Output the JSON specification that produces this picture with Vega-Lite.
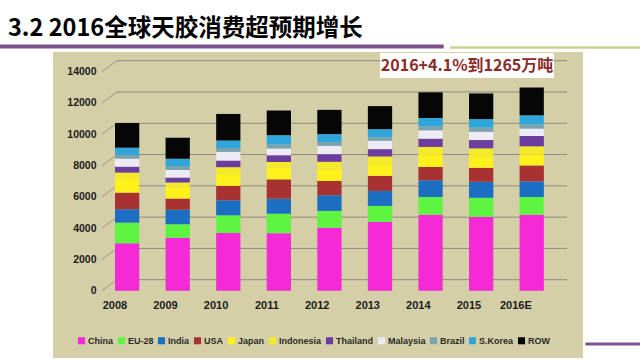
{
  "$schema": "https://vega.github.io/schema/vega-lite/v6.json",
  "width": 530,
  "height": 306,
  "autosize": {"type": "none"},
  "padding": {"left": 53, "top": 52, "right": 57, "bottom": 2},
  "background": "white",
  "view": {"fill": "#d4cfa6", "stroke": null},
  "title": {
    "text": "3.2 2016全球天胶消费超预期增长",
    "anchor": "start",
    "frame": "group",
    "dx": -45,
    "offset": 4,
    "font": "Noto Sans CJK SC",
    "fontSize": 23.5,
    "fontWeight": "bold",
    "color": "#000000"
  },
  "datasets": {
    "consumption": [
      {"year": "2008", "China": 3030, "EU-28": 1320, "India": 860, "USA": 1060, "Japan": 860, "Indonesia": 420, "Thailand": 380, "Malaysia": 510, "Brazil": 250, "S.Korea": 450, "ROW": 1580},
      {"year": "2009", "China": 3390, "EU-28": 860, "India": 920, "USA": 720, "Japan": 700, "Indonesia": 320, "Thailand": 320, "Malaysia": 490, "Brazil": 250, "S.Korea": 470, "ROW": 1330},
      {"year": "2010", "China": 3690, "EU-28": 1130, "India": 960, "USA": 920, "Japan": 750, "Indonesia": 445, "Thailand": 425, "Malaysia": 555, "Brazil": 250, "S.Korea": 475, "ROW": 1700},
      {"year": "2011", "China": 3680, "EU-28": 1240, "India": 960, "USA": 1240, "Japan": 740, "Indonesia": 370, "Thailand": 430, "Malaysia": 430, "Brazil": 260, "S.Korea": 590, "ROW": 1580},
      {"year": "2012", "China": 4030, "EU-28": 1070, "India": 1000, "USA": 920, "Japan": 720, "Indonesia": 500, "Thailand": 490, "Malaysia": 530, "Brazil": 250, "S.Korea": 500, "ROW": 1550},
      {"year": "2013", "China": 4400, "EU-28": 1020, "India": 960, "USA": 960, "Japan": 700, "Indonesia": 540, "Thailand": 470, "Malaysia": 530, "Brazil": 250, "S.Korea": 500, "ROW": 1470},
      {"year": "2014", "China": 4860, "EU-28": 1130, "India": 1070, "USA": 850, "Japan": 700, "Indonesia": 580, "Thailand": 530, "Malaysia": 530, "Brazil": 260, "S.Korea": 530, "ROW": 1640},
      {"year": "2015", "China": 4720, "EU-28": 1220, "India": 1020, "USA": 900, "Japan": 680, "Indonesia": 560, "Thailand": 530, "Malaysia": 530, "Brazil": 260, "S.Korea": 550, "ROW": 1640},
      {"year": "2016E", "China": 4860, "EU-28": 1130, "India": 1000, "USA": 1020, "Japan": 680, "Indonesia": 540, "Thailand": 660, "Malaysia": 470, "Brazil": 270, "S.Korea": 580, "ROW": 1780}
    ],
    "regions": [
      {"region": "China", "rank": 1}, {"region": "EU-28", "rank": 2}, {"region": "India", "rank": 3},
      {"region": "USA", "rank": 4}, {"region": "Japan", "rank": 5}, {"region": "Indonesia", "rank": 6},
      {"region": "Thailand", "rank": 7}, {"region": "Malaysia", "rank": 8}, {"region": "Brazil", "rank": 9},
      {"region": "S.Korea", "rank": 10}, {"region": "ROW", "rank": 11}
    ],
    "ticks": [{"v": 0}, {"v": 2000}, {"v": 4000}, {"v": 6000}, {"v": 8000}, {"v": 10000}, {"v": 12000}, {"v": 14000}],
    "note": [{"label": "2016+4.1%到1265万吨"}]
  },
  "layer": [
    {
      "data": {"name": "ticks"},
      "mark": {"type": "rule", "color": "#9a988a", "strokeWidth": 1, "y2Offset": -11},
      "encoding": {
        "y": {"field": "v", "type": "quantitative"},
        "y2": {"field": "v"},
        "x": {"datum": "2008", "type": "nominal", "bandPosition": -0.54},
        "x2": {"datum": "2008", "bandPosition": 0.083}
      }
    },
    {
      "data": {"name": "ticks"},
      "mark": {"type": "rule", "color": "#8e8c7e", "strokeWidth": 1, "yOffset": -11},
      "encoding": {
        "y": {"field": "v", "type": "quantitative"},
        "x": {"datum": "2008", "type": "nominal", "bandPosition": 0.083},
        "x2": {"datum": "2016E", "bandPosition": 1.96}
      }
    },
    {
      "data": {"name": "consumption"},
      "transform": [
        {"fold": ["China", "EU-28", "India", "USA", "Japan", "Indonesia", "Thailand", "Malaysia", "Brazil", "S\\.Korea", "ROW"], "as": ["region", "value"]},
        {"lookup": "region", "from": {"data": {"name": "regions"}, "key": "region", "fields": ["rank"]}}
      ],
      "mark": {"type": "bar"},
      "encoding": {
        "x": {
          "field": "year",
          "type": "nominal",
          "scale": {
            "domain": ["2008", "2009", "2010", "2011", "2012", "2013", "2014", "2015", "2016E"],
            "paddingInner": 0.52,
            "paddingOuter": 1.06,
            "align": 0.613
          },
          "axis": {
            "title": null,
            "orient": "bottom",
            "offset": -62,
            "domain": false,
            "ticks": false,
            "grid": false,
            "labelAngle": 0,
            "labelFont": "Liberation Sans",
            "labelFontWeight": "bold",
            "labelFontSize": 11,
            "labelColor": "#1c1c1c",
            "labelPadding": 9
          }
        },
        "y": {
          "field": "value",
          "type": "quantitative",
          "stack": "zero",
          "scale": {"domain": [-4302, 15259], "nice": false, "zero": false},
          "axis": {
            "title": null,
            "values": [0, 2000, 4000, 6000, 8000, 10000, 12000, 14000],
            "format": "d",
            "offset": -48,
            "domain": false,
            "ticks": false,
            "grid": false,
            "labelFont": "Liberation Sans",
            "labelFontWeight": "bold",
            "labelFontSize": 10.5,
            "labelColor": "#1c1c1c",
            "labelPadding": 5
          }
        },
        "order": {"field": "rank", "type": "quantitative", "sort": "ascending"},
        "color": {
          "field": "region",
          "type": "nominal",
          "scale": {
            "domain": ["China", "EU-28", "India", "USA", "Japan", "Indonesia", "Thailand", "Malaysia", "Brazil", "S.Korea", "ROW"],
            "range": ["#f52ad6", "#5ef542", "#1b6ec2", "#a83232", "#fff21c", "#f4ea2a", "#6a3d9e", "#ecebf6", "#7aa3b0", "#2ea6dc", "#060606"]
          },
          "legend": {
            "title": null,
            "orient": "none",
            "legendX": 24,
            "legendY": 284,
            "direction": "horizontal",
            "symbolType": "square",
            "symbolSize": 50,
            "symbolStrokeWidth": 0,
            "symbolOpacity": 1,
            "labelFont": "Liberation Sans",
            "labelFontWeight": "bold",
            "labelFontSize": 9,
            "labelColor": "#2a2a2a",
            "labelOffset": 2,
            "columnPadding": 3
          }
        }
      }
    },
    {
      "data": {"values": [{}]},
      "mark": {"type": "rect", "fill": "#ffffff"},
      "encoding": {
        "x": {"datum": "2013", "type": "nominal", "bandPosition": 0.5},
        "x2": {"datum": "2016E", "bandPosition": 1.417},
        "y": {"datum": 15195, "type": "quantitative"},
        "y2": {"datum": 13597}
      }
    },
    {
      "data": {"name": "note"},
      "mark": {"type": "text", "font": "Noto Sans CJK SC", "fontWeight": "bold", "fontSize": 16, "color": "#8b2b2b", "align": "center", "baseline": "middle"},
      "encoding": {
        "text": {"field": "label"},
        "x": {"datum": "2015", "type": "nominal", "bandPosition": -0.08},
        "y": {"datum": 14396, "type": "quantitative"}
      }
    },
    {
      "data": {"values": [{}]},
      "mark": {"type": "rule", "color": "#7a5290", "strokeWidth": 4},
      "encoding": {
        "y": {"datum": 15611, "type": "quantitative"},
        "x": {"datum": "2008", "type": "nominal", "bandPosition": -4.917},
        "x2": {"datum": "2013", "bandPosition": 3.125}
      }
    },
    {
      "data": {"values": [{}]},
      "mark": {"type": "rule", "color": "#c9d291", "strokeWidth": 2.5},
      "encoding": {
        "y": {"datum": 15547, "type": "quantitative"},
        "x": {"datum": "2014", "type": "nominal", "bandPosition": 1.29},
        "x2": {"datum": "2016E", "bandPosition": 5.1}
      }
    },
    {
      "data": {"values": [{}]},
      "mark": {"type": "rule", "color": "#7a5290", "strokeWidth": 3},
      "encoding": {
        "y": {"datum": -3409, "type": "quantitative"},
        "x": {"datum": "2016E", "type": "nominal", "bandPosition": 2.71},
        "x2": {"datum": "2016E", "bandPosition": 5.1}
      }
    }
  ]
}
